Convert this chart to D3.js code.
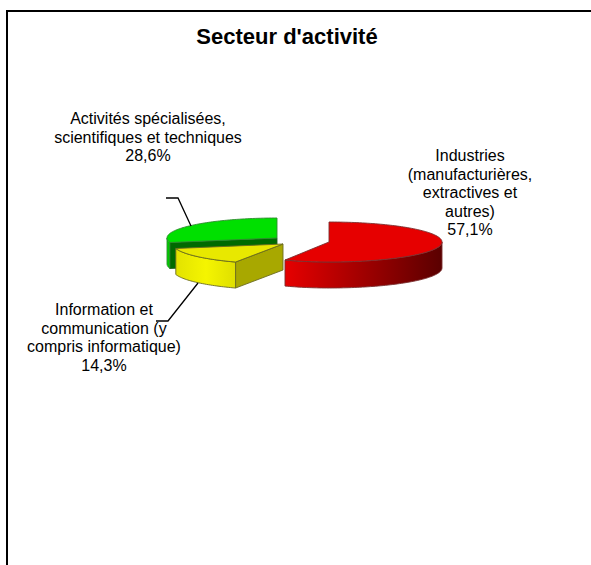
<!DOCTYPE html>
<html><head><meta charset="utf-8"><style>html,body{margin:0;padding:0;background:#fff}svg{display:block}text{font-family:"Liberation Sans",Arial,sans-serif;fill:#000}</style>
<script src="https://cdn.jsdelivr.net/npm/d3@7/dist/d3.min.js"></script></head><body><div id="c"></div><script>
const chartTitle = "Secteur d'activité";
const categories = ["Industries (manufacturières, extractives et autres)", "Information et communication (y compris informatique)", "Activités spécialisées, scientifiques et techniques"];
const values = [57.1, 14.3, 28.6];
const valueLabels = ["57,1%", "14,3%", "28,6%"];
const labelLines = [["Industries","(manufacturières,","extractives et","autres)"],["Information et","communication (y","compris informatique)"],["Activités spécialisées,","scientifiques et techniques"]];
const topColors = ["#e60000", "#e8e800", "#00e000"];
const sideDark = ["#5a0000", "#a8a800", "#006a00"];

const W=591,H=565;
const svg=d3.select("#c").append("svg").attr("width",W).attr("height",H);
const defs=svg.append("defs");
svg.append("path").attr("d",`M7 ${H} V11 H${W}`).attr("fill","none").attr("stroke","#000").attr("stroke-width",2);
svg.append("text").attr("x",287).attr("y",44).attr("text-anchor","middle").attr("font-size",22).attr("font-weight","bold").text(chartTitle);

const pie=d3.pie().sort(null).value(d=>d);
const arcs=pie(values);
const cx=[329,283,277],cy=[242,244,238];
const rxR=[113,110,110],rxL=[102,110,110],ry=[20,20,20];
const depth=26;
const pt=(i,a)=>{const s=Math.sin(a);return [cx[i]+(s<0?rxL[i]:rxR[i])*s,cy[i]-ry[i]*Math.cos(a)];};
const sweep=(i,a0,a1)=>{const n=Math.max(2,Math.ceil((a1-a0)*40));return d3.range(n+1).map(k=>pt(i,a0+(a1-a0)*k/n));};
const ln=d3.line();
const topPath=i=>ln([[cx[i],cy[i]],...sweep(i,arcs[i].startAngle,arcs[i].endAngle)])+"Z";
const rimPath=(i,a0,a1)=>{const up=sweep(i,a0,a1),down=up.map(p=>[p[0],p[1]+depth]).reverse();return ln([...up,...down])+"Z";};
const facePath=(i,a)=>{const e=pt(i,a);return ln([[cx[i],cy[i]],e,[e[0],e[1]+depth],[cx[i],cy[i]+depth]])+"Z";};
function grad(id,x1,x2,stops){const g=defs.append("linearGradient").attr("id",id).attr("gradientUnits","userSpaceOnUse").attr("x1",x1).attr("x2",x2).attr("y1",0).attr("y2",0);
 stops.forEach((c,k)=>g.append("stop").attr("offset",k/(stops.length-1)).attr("stop-color",c));return `url(#${id})`;}
const draw=(d,f,s)=>svg.append("path").attr("d",d).attr("fill",f).attr("stroke",s).attr("stroke-width",0.9).attr("stroke-linejoin","round");

// green slice
draw(facePath(2,arcs[2].startAngle),sideDark[2],"#1e5c1e");
draw(rimPath(2,arcs[2].startAngle,Math.PI*1.5),grad("gg",167,171,["#00d800","#00b000"]),"#2e8b2e");
draw(topPath(2),topColors[2],"#2e8b2e");
// yellow slice
draw(facePath(1,arcs[1].startAngle),sideDark[1],"#6b6b20");
draw(rimPath(1,arcs[1].startAngle,arcs[1].endAngle),grad("gy",175,237,["#e2e200","#f5f500","#dede00"]),"#6b6b20");
draw(topPath(1),topColors[1],"#6b6b20");
// red slice
draw(rimPath(0,Math.PI/2,arcs[0].endAngle),grad("gr",285,442,["#e60000",sideDark[0]]),"#7a3030");
draw(topPath(0),topColors[0],"#7a3030");

// leader lines
const leader=p=>svg.append("path").attr("d",ln(p)).attr("fill","none").attr("stroke","#000").attr("stroke-width",1.3);
leader([[166,198],[178,198],[191,226]]);
leader([[198,283],[168,321],[156,321]]);

function label(i,x,y,dy){const t=svg.append("text").attr("text-anchor","middle").attr("font-size",16);
 labelLines[i].concat([valueLabels[i]]).forEach((l,k)=>t.append("tspan").attr("x",x).attr("y",y+k*dy).text(l));}
label(0,470,161,18.5);
label(2,148,124,18.5);
label(1,104,315,18.5);
</script></body></html>
